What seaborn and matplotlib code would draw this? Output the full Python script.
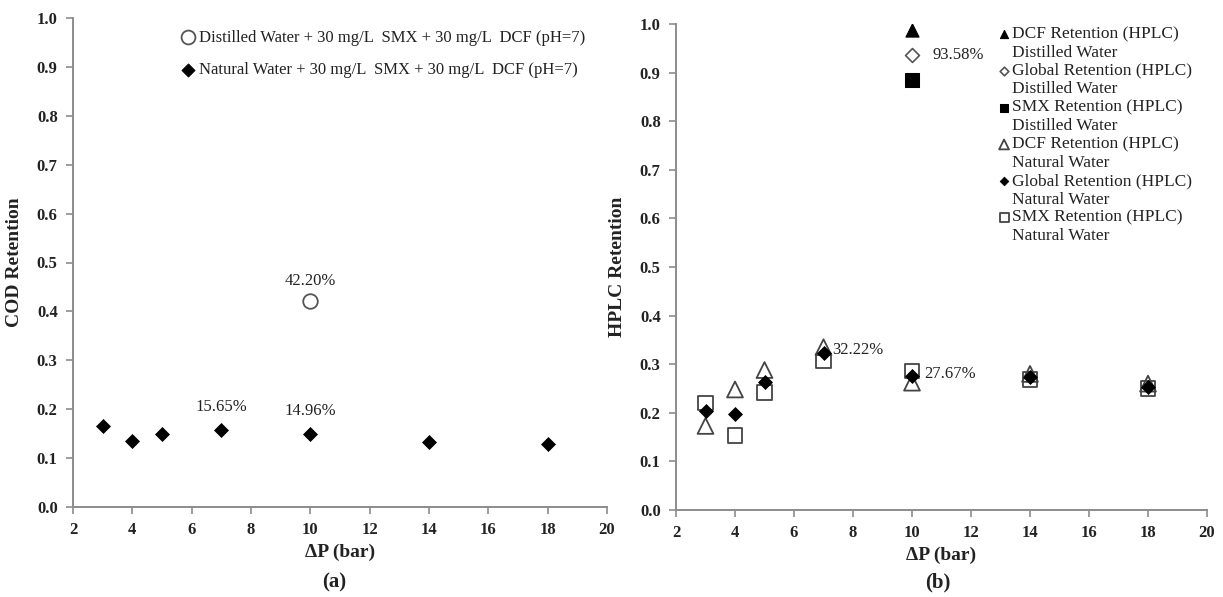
import matplotlib
matplotlib.use("Agg")
import matplotlib.pyplot as plt
import seaborn as sns

# ---------------- data ----------------
pressure = [3, 4, 5, 7, 10, 14, 18]
cod_natural = [0.165, 0.135, 0.150, 0.1565, 0.1496, 0.132, 0.129]
cod_distilled_x = [10]
cod_distilled = [0.422]

hplc_dist_x = [10]
dcf_dist = [0.988]
global_dist = [0.9358]
smx_dist = [0.884]

dcf_nat = [0.173, 0.248, 0.288, 0.335, 0.262, 0.280, 0.260]
global_nat = [0.203, 0.198, 0.264, 0.3222, 0.2767, 0.274, 0.254]
smx_nat = [0.220, 0.153, 0.242, 0.307, 0.286, 0.269, 0.250]

x_ticks = [2, 4, 6, 8, 10, 12, 14, 16, 18, 20]
y_ticks = [0.0, 0.1, 0.2, 0.3, 0.4, 0.5, 0.6, 0.7, 0.8, 0.9, 1.0]

legend_a = ["Distilled Water + 30 mg/L  SMX + 30 mg/L  DCF (pH=7)",
            "Natural Water + 30 mg/L  SMX + 30 mg/L  DCF (pH=7)"]
legend_b = ["DCF Retention (HPLC)\nDistilled Water",
            "Global Retention (HPLC)\nDistilled Water",
            "SMX Retention (HPLC)\nDistilled Water",
            "DCF Retention (HPLC)\nNatural Water",
            "Global Retention (HPLC)\nNatural Water",
            "SMX Retention (HPLC)\nNatural Water"]

# ---------------- style ----------------
sns.set_theme(style="ticks")
plt.rcParams["font.family"] = ["Liberation Serif", "DejaVu Serif"]
plt.rcParams["font.size"] = 12
plt.rcParams["axes.edgecolor"] = "#8c8c8c"
plt.rcParams["xtick.color"] = "#8c8c8c"
plt.rcParams["ytick.color"] = "#8c8c8c"

fig = plt.figure(figsize=(12.23, 5.97), dpi=100)
ax1 = fig.add_axes([73 / 1223, 1 - 507 / 597, 534 / 1223, 489 / 597])
ax2 = fig.add_axes([676 / 1223, 1 - 510 / 597, 531 / 1223, 486 / 597])

txt = "#222222"

def style_axis(ax, ylabel):
    ax.set_xlim(2, 20)
    ax.set_ylim(0, 1.0)
    ax.set_xticks(x_ticks)
    ax.set_yticks(y_ticks)
    ax.set_xticklabels([str(v) for v in x_ticks], fontsize=12, fontweight="bold", color=txt)
    ax.set_yticklabels([f"{v:.1f}" for v in y_ticks], fontsize=12, fontweight="bold", color=txt)
    ax.tick_params(axis="both", direction="out", length=5, width=1.2, pad=6)
    ax.set_xlabel("ΔP (bar)", fontsize=14, fontweight="bold", color=txt, labelpad=4)
    ax.set_ylabel(ylabel, fontsize=14, fontweight="bold", color=txt, labelpad=10)
    for s in ["top", "right"]:
        ax.spines[s].set_visible(False)
    for s in ["left", "bottom"]:
        ax.spines[s].set_linewidth(1.4)

# ---------------- panel (a) ----------------
sns.scatterplot(x=cod_distilled_x, y=cod_distilled, ax=ax1, marker="o", s=110,
                facecolor="white", edgecolor="#555555", linewidth=1.3, label=legend_a[0])
sns.scatterplot(x=pressure, y=cod_natural, ax=ax1, marker="D", s=50,
                color="black", edgecolor="black", label=legend_a[1])
style_axis(ax1, "COD Retention")
ax1.text(10, 0.463, "42.20%", ha="center", va="center", fontsize=12, color=txt)
ax1.text(7, 0.205, "15.65%", ha="center", va="center", fontsize=12, color=txt)
ax1.text(10, 0.196, "14.96%", ha="center", va="center", fontsize=12, color=txt)
leg1 = ax1.legend(loc="upper left", bbox_to_anchor=(0.185, 0.99), frameon=False,
                  fontsize=12, handletextpad=0.05, borderaxespad=0.0, labelspacing=1.0,
                  handlelength=1.2, markerscale=0.95)
for t in leg1.get_texts():
    t.set_color(txt)

# ---------------- panel (b) ----------------
sns.scatterplot(x=hplc_dist_x, y=dcf_dist, ax=ax2, marker="^", s=90,
                color="black", edgecolor="black", label=legend_b[0])
sns.scatterplot(x=hplc_dist_x, y=global_dist, ax=ax2, marker="D", s=50,
                facecolor="white", edgecolor="#555555", linewidth=1.2, label=legend_b[1])
sns.scatterplot(x=hplc_dist_x, y=smx_dist, ax=ax2, marker="s", s=90,
                color="black", edgecolor="black", label=legend_b[2])
sns.scatterplot(x=pressure, y=dcf_nat, ax=ax2, marker="^", s=130,
                facecolor="none", edgecolor="#444444", linewidth=1.3, zorder=3,
                label=legend_b[3])
sns.scatterplot(x=pressure, y=global_nat, ax=ax2, marker="D", s=50,
                color="black", edgecolor="black", zorder=5, label=legend_b[4])
sns.scatterplot(x=pressure, y=smx_nat, ax=ax2, marker="s", s=110,
                facecolor="none", edgecolor="#444444", linewidth=1.3, zorder=4,
                label=legend_b[5])
style_axis(ax2, "HPLC Retention")
ax2.text(10.7, 0.9358, "93.58%", ha="left", va="center", fontsize=12, color=txt)
ax2.text(7.3, 0.33, "32.22%", ha="left", va="center", fontsize=12, color=txt)
ax2.text(10.4, 0.28, "27.67%", ha="left", va="center", fontsize=12, color=txt)
leg2 = ax2.legend(loc="upper left", bbox_to_anchor=(0.59, 1.01), frameon=False,
                  fontsize=12.5, handletextpad=0.0, borderaxespad=0.0, labelspacing=0.12,
                  handlelength=0.9, markerscale=0.62)
for t in leg2.get_texts():
    t.set_color(txt)
    t.set_linespacing(1.22)
# align each legend marker with the first line of its two-line label
for h in leg2.legend_handles:
    try:
        offs = h.get_offsets()
        offs[:, 1] = offs[:, 1] + 7.6
        h.set_offsets(offs)
    except Exception:
        pass

fig.text(334 / 1223, 1 - 582 / 597, "(a)", ha="center", va="center", fontsize=15,
         fontweight="bold", color=txt)
fig.text(938 / 1223, 1 - 582 / 597, "(b)", ha="center", va="center", fontsize=15,
         fontweight="bold", color=txt)

fig.savefig("out.png", dpi=100, facecolor="white")
